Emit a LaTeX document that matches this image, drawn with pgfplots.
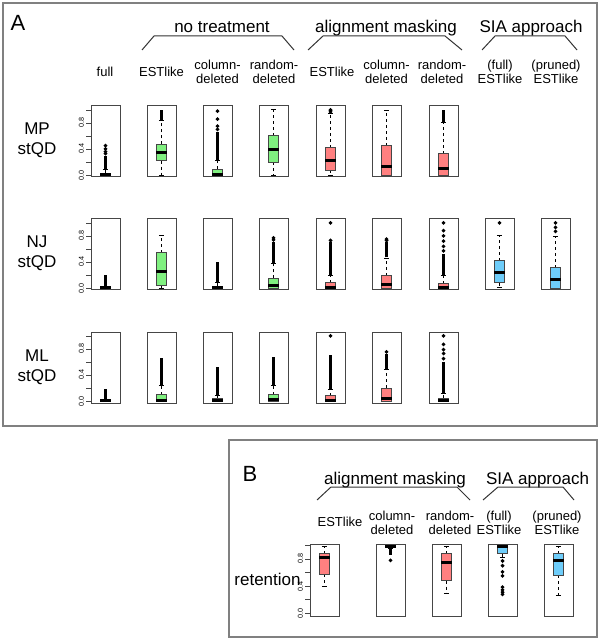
\documentclass[border=0pt]{standalone}
\usepackage{fontspec}
\setmainfont{Liberation Sans}
\usepackage{pgfplots}
\pgfplotsset{compat=1.18}
\usepgfplotslibrary{statistics}

\definecolor{grn}{RGB}{128,240,128}
\definecolor{rd}{RGB}{255,128,128}
\definecolor{blu}{RGB}{110,205,250}
\definecolor{frm}{RGB}{70,70,70}

\newcommand{\hfont}{\fontsize{8.5}{10}\selectfont}
\newcommand{\cfont}{\fontsize{6.5}{7}\selectfont}
\newcommand{\pfont}{\fontsize{11}{13}\selectfont}

% R-like whiskers: dashed stem, solid staple
\pgfplotsset{
  boxplot/draw/lower whisker/.code={%
    \draw[black, line width=0.5pt, dash pattern=on 1.5pt off 1.5pt]
      (boxplot box cs:\pgfplotsboxplotvalue{lower quartile},0.5) --
      (boxplot box cs:\pgfplotsboxplotvalue{lower whisker},0.5);
    \draw[black, line width=0.5pt]
      (boxplot whisker cs:\pgfplotsboxplotvalue{lower whisker},0) --
      (boxplot whisker cs:\pgfplotsboxplotvalue{lower whisker},1);
  },
  boxplot/draw/upper whisker/.code={%
    \draw[black, line width=0.5pt, dash pattern=on 1.5pt off 1.5pt]
      (boxplot box cs:\pgfplotsboxplotvalue{upper quartile},0.5) --
      (boxplot box cs:\pgfplotsboxplotvalue{upper whisker},0.5);
    \draw[black, line width=0.5pt]
      (boxplot whisker cs:\pgfplotsboxplotvalue{upper whisker},0) --
      (boxplot whisker cs:\pgfplotsboxplotvalue{upper whisker},1);
  },
  sbox/.style={anchor=south west, scale only axis, width=14.5pt, height=35.5pt,
    xmin=0.46, xmax=1.54, ymin=-0.03, ymax=1.06,
    xtick=\empty, ytick=\empty, axis line style={frm, line width=0.5pt},
    clip=false, boxplot/draw direction=y},
  yax/.style={ytick={0,0.2,0.4,0.6,0.8,1}, yticklabels={0.0,,0.4,,0.8,},
    tick pos=left, tick align=outside, major tick length=2.5pt,
    tick style={frm, line width=0.4pt},
    /pgf/number format/assume math mode=true,
    yticklabel style={rotate=90, anchor=south, inner sep=0.8pt,
      font=\fontsize{3.6}{4}\selectfont}},
  bx/.style={black, line width=0.5pt, mark=*, mark size=0.65pt,
    boxplot/box extend=0.4, boxplot/whisker extend=0.2, boxplot/draw position=1,
    boxplot/every box/.style={fill=#1, draw=frm, line width=0.5pt},
    boxplot/every median/.style={black, line width=1.5pt}},
  band/.style={black, line width=1.3pt, forget plot},
}

\begin{document}
\begin{tikzpicture}[x=0.5pt, y=-0.5pt]
\path (0,0) rectangle (600,640);
\draw[black!50, line width=0.8pt] (3,3) rectangle (597,426);
\draw[black!50, line width=0.8pt] (229,440) rectangle (597,637);

% ---------------- panel A text
\node[anchor=base, font=\pfont] at (18,31) {A};
\node[anchor=base, font=\hfont] at (222,33) {no treatment};
\node[anchor=base, font=\hfont] at (386,33) {alignment masking};
\node[anchor=base, font=\hfont] at (531,33) {SIA approach};
\draw[black!80, line width=0.5pt] (142,50) -- (154,36) -- (282,36) -- (294,50);
\draw[black!80, line width=0.5pt] (308,50) -- (323,36) -- (445,36) -- (462,50);
\draw[black!80, line width=0.5pt] (482,50) -- (495,36) -- (565,36) -- (577,50);

\node[anchor=base, font=\cfont] at (105,76.5) {full};
\node[anchor=base, font=\cfont] at (161.5,76.5) {ESTlike};
\node[anchor=base, font=\cfont] at (217.5,70) {column-};
\node[anchor=base, font=\cfont] at (217.5,83.3) {deleted};
\node[anchor=base, font=\cfont] at (274,70) {random-};
\node[anchor=base, font=\cfont] at (274,83.3) {deleted};
\node[anchor=base, font=\cfont] at (332,76.5) {ESTlike};
\node[anchor=base, font=\cfont] at (386.5,70) {column-};
\node[anchor=base, font=\cfont] at (386.5,83.3) {deleted};
\node[anchor=base, font=\cfont] at (442,70) {random-};
\node[anchor=base, font=\cfont] at (442,83.3) {deleted};
\node[anchor=base, font=\cfont] at (500,70) {(full)};
\node[anchor=base, font=\cfont] at (500,83.3) {ESTlike};
\node[anchor=base, font=\cfont] at (556,70) {(pruned)};
\node[anchor=base, font=\cfont] at (556,83.3) {ESTlike};

\node[anchor=base, font=\hfont] at (37,135) {MP};
\node[anchor=base, font=\hfont] at (37,155) {stQD};
\node[anchor=base, font=\hfont] at (37,248) {NJ};
\node[anchor=base, font=\hfont] at (37,268) {stQD};
\node[anchor=base, font=\hfont] at (37,361) {ML};
\node[anchor=base, font=\hfont] at (37,381) {stQD};

% ---------------- row 1: MP stQD
\begin{axis}[sbox, yax, at={(45.5pt,-88.5pt)}]
\addplot[band] coordinates {(1,0.09) (1,0.30)};
\addplot[bx=white, boxplot prepared={lower whisker=0, lower quartile=0, median=0.005,
  upper quartile=0.03, upper whisker=0.08}]
  table[row sep=\\, y index=0] {v\\0.33\\0.36\\0.40\\0.45\\};
\end{axis}
\begin{axis}[sbox, at={(73.5pt,-88.5pt)}]
\addplot[band] coordinates {(1,0.85) (1,1.0)};
\addplot[bx=grn, boxplot prepared={lower whisker=0, lower quartile=0.22, median=0.34,
  upper quartile=0.47, upper whisker=0.84}] coordinates {};
\end{axis}
\begin{axis}[sbox, at={(101.5pt,-88.5pt)}]
\addplot[band] coordinates {(1,0.23) (1,0.66)};
\addplot[bx=grn, boxplot prepared={lower whisker=0, lower quartile=0, median=0.005,
  upper quartile=0.09, upper whisker=0.22}]
  table[row sep=\\, y index=0] {v\\0.70\\0.75\\0.86\\0.98\\};
\end{axis}
\begin{axis}[sbox, at={(129.5pt,-88.5pt)}]
\addplot[bx=grn, boxplot prepared={lower whisker=0, lower quartile=0.20, median=0.385,
  upper quartile=0.60, upper whisker=1.0}] coordinates {};
\end{axis}
\begin{axis}[sbox, at={(158pt,-88.5pt)}]
\addplot[bx=rd, boxplot prepared={lower whisker=0, lower quartile=0.07, median=0.23,
  upper quartile=0.42, upper whisker=0.95}]
  table[row sep=\\, y index=0] {v\\0.97\\0.99\\1.0\\};
\end{axis}
\begin{axis}[sbox, at={(186pt,-88.5pt)}]
\addplot[bx=rd, boxplot prepared={lower whisker=0, lower quartile=0, median=0.13,
  upper quartile=0.45, upper whisker=0.99}] coordinates {};
\end{axis}
\begin{axis}[sbox, at={(214.5pt,-88.5pt)}]
\addplot[band] coordinates {(1,0.81) (1,1.0)};
\addplot[bx=rd, boxplot prepared={lower whisker=0, lower quartile=0, median=0.10,
  upper quartile=0.33, upper whisker=0.80}] coordinates {};
\end{axis}

% ---------------- row 2: NJ stQD
\begin{axis}[sbox, yax, at={(45.5pt,-145pt)}]
\addplot[band] coordinates {(1,0.03) (1,0.20)};
\addplot[bx=white, boxplot prepared={lower whisker=0, lower quartile=0, median=0.003,
  upper quartile=0.015, upper whisker=0.03}] coordinates {};
\end{axis}
\begin{axis}[sbox, at={(73.5pt,-145pt)}]
\addplot[bx=grn, boxplot prepared={lower whisker=0, lower quartile=0.035, median=0.25,
  upper quartile=0.54, upper whisker=0.81}] coordinates {};
\end{axis}
\begin{axis}[sbox, at={(101.5pt,-145pt)}]
\addplot[band] coordinates {(1,0.09) (1,0.40)};
\addplot[bx=grn, boxplot prepared={lower whisker=0, lower quartile=0, median=0.005,
  upper quartile=0.03, upper whisker=0.085}] coordinates {};
\end{axis}
\begin{axis}[sbox, at={(129.5pt,-145pt)}]
\addplot[band] coordinates {(1,0.38) (1,0.70)};
\addplot[bx=grn, boxplot prepared={lower whisker=0, lower quartile=0, median=0.035,
  upper quartile=0.15, upper whisker=0.38}]
  table[row sep=\\, y index=0] {v\\0.74\\0.77\\};
\end{axis}
\begin{axis}[sbox, at={(158pt,-145pt)}]
\addplot[band] coordinates {(1,0.19) (1,0.70)};
\addplot[bx=rd, boxplot prepared={lower whisker=0, lower quartile=0, median=0.015,
  upper quartile=0.085, upper whisker=0.19}]
  table[row sep=\\, y index=0] {v\\0.73\\1.0\\};
\end{axis}
\begin{axis}[sbox, at={(186pt,-145pt)}]
\addplot[band] coordinates {(1,0.47) (1,0.70)};
\addplot[bx=rd, boxplot prepared={lower whisker=0, lower quartile=0, median=0.055,
  upper quartile=0.19, upper whisker=0.46}]
  table[row sep=\\, y index=0] {v\\0.73\\0.75\\};
\end{axis}
\begin{axis}[sbox, at={(214.5pt,-145pt)}]
\addplot[band] coordinates {(1,0.19) (1,0.52)};
\addplot[bx=rd, boxplot prepared={lower whisker=0, lower quartile=0, median=0.005,
  upper quartile=0.065, upper whisker=0.19}]
  table[row sep=\\, y index=0] {v\\0.57\\0.64\\0.72\\0.80\\0.88\\1.0\\};
\end{axis}
\begin{axis}[sbox, at={(242.5pt,-145pt)}]
\addplot[bx=blu, boxplot prepared={lower whisker=0.005, lower quartile=0.08, median=0.245,
  upper quartile=0.42, upper whisker=0.80}]
  table[row sep=\\, y index=0] {v\\1.0\\};
\end{axis}
\begin{axis}[sbox, at={(270.5pt,-145pt)}]
\addplot[bx=blu, boxplot prepared={lower whisker=0, lower quartile=0, median=0.13,
  upper quartile=0.31, upper whisker=0.79}]
  table[row sep=\\, y index=0] {v\\0.87\\0.93\\1.0\\};
\end{axis}

% ---------------- row 3: ML stQD
\begin{axis}[sbox, yax, at={(45.5pt,-201.5pt)}]
\addplot[band] coordinates {(1,0.03) (1,0.19)};
\addplot[bx=white, boxplot prepared={lower whisker=0, lower quartile=0, median=0.003,
  upper quartile=0.01, upper whisker=0.03}] coordinates {};
\end{axis}
\begin{axis}[sbox, at={(73.5pt,-201.5pt)}]
\addplot[band] coordinates {(1,0.24) (1,0.655)};
\addplot[bx=grn, boxplot prepared={lower whisker=0, lower quartile=0.005, median=0.015,
  upper quartile=0.095, upper whisker=0.235}] coordinates {};
\end{axis}
\begin{axis}[sbox, at={(101.5pt,-201.5pt)}]
\addplot[band] coordinates {(1,0.08) (1,0.53)};
\addplot[bx=grn, boxplot prepared={lower whisker=0, lower quartile=0, median=0.005,
  upper quartile=0.04, upper whisker=0.08}] coordinates {};
\end{axis}
\begin{axis}[sbox, at={(129.5pt,-201.5pt)}]
\addplot[band] coordinates {(1,0.24) (1,0.68)};
\addplot[bx=grn, boxplot prepared={lower whisker=0, lower quartile=0, median=0.02,
  upper quartile=0.095, upper whisker=0.235}] coordinates {};
\end{axis}
\begin{axis}[sbox, at={(158pt,-201.5pt)}]
\addplot[band] coordinates {(1,0.19) (1,0.70)};
\addplot[bx=rd, boxplot prepared={lower whisker=0, lower quartile=0, median=0.015,
  upper quartile=0.08, upper whisker=0.18}]
  table[row sep=\\, y index=0] {v\\1.0\\};
\end{axis}
\begin{axis}[sbox, at={(186pt,-201.5pt)}]
\addplot[band] coordinates {(1,0.49) (1,0.72)};
\addplot[bx=rd, boxplot prepared={lower whisker=0, lower quartile=0, median=0.035,
  upper quartile=0.20, upper whisker=0.485}]
  table[row sep=\\, y index=0] {v\\0.755\\};
\end{axis}
\begin{axis}[sbox, at={(214.5pt,-201.5pt)}]
\addplot[band] coordinates {(1,0.12) (1,0.60)};
\addplot[bx=rd, boxplot prepared={lower whisker=0, lower quartile=0, median=0.01,
  upper quartile=0.045, upper whisker=0.12}]
  table[row sep=\\, y index=0] {v\\0.65\\0.73\\0.79\\0.87\\1.0\\};
\end{axis}

% ---------------- panel B text
\node[anchor=base, font=\pfont] at (250,481) {B};
\node[anchor=base, font=\hfont] at (395,484) {alignment masking};
\node[anchor=base, font=\hfont] at (537.5,484) {SIA approach};
\draw[black!80, line width=0.5pt] (317,500) -- (331,487) -- (457,487) -- (470,500);
\draw[black!80, line width=0.5pt] (483,500) -- (498,487) -- (563,487) -- (574,500);
\node[anchor=base, font=\cfont] at (340,526.7) {ESTlike};
\node[anchor=base, font=\cfont] at (392,520.7) {column-};
\node[anchor=base, font=\cfont] at (392,534) {deleted};
\node[anchor=base, font=\cfont] at (450,520.7) {random-};
\node[anchor=base, font=\cfont] at (450,534) {deleted};
\node[anchor=base, font=\cfont] at (499,520.7) {(full)};
\node[anchor=base, font=\cfont] at (499,534) {ESTlike};
\node[anchor=base, font=\cfont] at (557,520.7) {(pruned)};
\node[anchor=base, font=\cfont] at (557,534) {ESTlike};
\node[anchor=base, font=\hfont] at (267.5,585) {retention};

% ---------------- panel B boxes
\begin{axis}[sbox, yax, height=36pt, ymin=-0.04, ymax=1.02, at={(155pt,-308pt)}]
\addplot[bx=rd, boxplot prepared={lower whisker=0.395, lower quartile=0.573, median=0.815,
  upper quartile=0.88, upper whisker=0.98}] coordinates {};
\end{axis}
\begin{axis}[sbox, height=36pt, ymin=-0.04, ymax=1.02, at={(188pt,-308pt)}]
\addplot[band] coordinates {(1,0.86) (1,0.95)};
\addplot[bx=rd, boxplot prepared={lower whisker=0.96, lower quartile=0.975, median=0.99,
  upper quartile=1.0, upper whisker=1.0}]
  table[row sep=\\, y index=0] {v\\0.78\\};
\end{axis}
\begin{axis}[sbox, height=36pt, ymin=-0.04, ymax=1.02, at={(216pt,-308pt)}]
\addplot[bx=rd, boxplot prepared={lower whisker=0.286, lower quartile=0.48, median=0.745,
  upper quartile=0.88, upper whisker=0.98}] coordinates {};
\end{axis}
\begin{axis}[sbox, height=36pt, ymin=-0.04, ymax=1.02, at={(244pt,-308pt)}]
\addplot[bx=blu, boxplot prepared={lower whisker=0.82, lower quartile=0.88, median=0.98,
  upper quartile=0.99, upper whisker=1.0}]
  table[row sep=\\, y index=0] {v\\0.77\\0.70\\0.61\\0.55\\0.385\\0.345\\0.31\\0.28\\};
\end{axis}
\begin{axis}[sbox, height=36pt, ymin=-0.04, ymax=1.02, at={(272pt,-308pt)}]
\addplot[bx=blu, boxplot prepared={lower whisker=0.262, lower quartile=0.563, median=0.78,
  upper quartile=0.88, upper whisker=0.98}] coordinates {};
\end{axis}
\end{tikzpicture}
\end{document}
